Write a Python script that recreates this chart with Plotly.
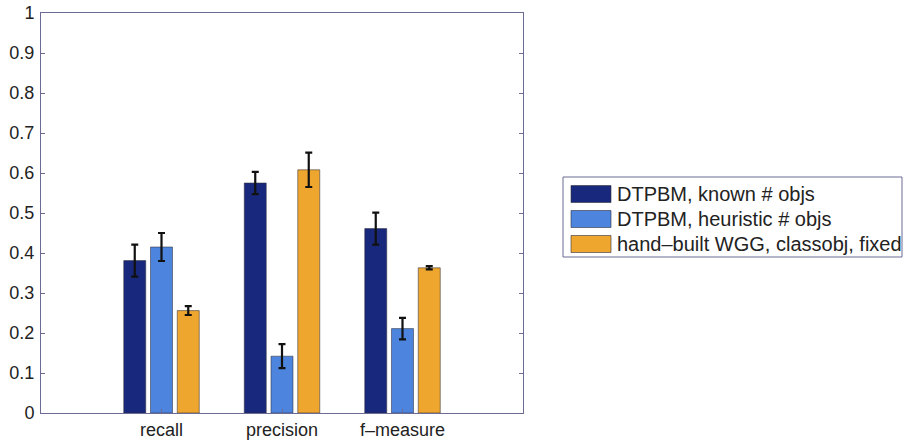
import plotly.graph_objects as go

categories = ["recall", "precision", "f\u2013measure"]
series_names = ["DTPBM, known # objs", "DTPBM, heuristic # objs", "hand\u2013built WGG, classobj, fixed"]
known_vals = [0.381, 0.575, 0.461]
known_err = [0.040, 0.028, 0.040]
heur_vals = [0.415, 0.142, 0.211]
heur_err = [0.035, 0.030, 0.027]
hand_vals = [0.256, 0.608, 0.363]
hand_err = [0.011, 0.043, 0.004]
y_ticks = [0, 0.1, 0.2, 0.3, 0.4, 0.5, 0.6, 0.7, 0.8, 0.9, 1]
y_ticktext = ["0", "0.1", "0.2", "0.3", "0.4", "0.5", "0.6", "0.7", "0.8", "0.9", "1"]

colors = ["#18287c", "#4c84de", "#eea62f"]
FONT = "Liberation Sans, Arial, sans-serif"

fig = go.Figure()
for name, vals, errs, col in zip(series_names,
                                 [known_vals, heur_vals, hand_vals],
                                 [known_err, heur_err, hand_err], colors):
    fig.add_trace(go.Bar(
        x=categories, y=vals, name=name,
        marker=dict(color=col, line=dict(color="rgba(50,50,60,0.55)", width=1)),
        error_y=dict(type="data", array=errs, visible=True, color="#111111",
                     thickness=2.2, width=3.5),
        showlegend=False,
    ))

# manual legend (matlab-style wide swatches), positions in pixels
T, B = 13, 27
x0, x1 = 41, 523
y1, y0 = T, 440 - B
def px(x):
    return (x - x0) / (x1 - x0)
def py(y):
    return (y0 - y) / (y0 - y1)

shapes = [dict(type="rect", xref="paper", yref="paper",
               x0=px(563), x1=px(902), y0=py(257), y1=py(177),
               line=dict(color="#6b6b95", width=1), fillcolor="white", layer="below")]
annotations = []
row_y = [194, 219, 244]
for name, col, ry in zip(series_names, colors, row_y):
    shapes.append(dict(type="rect", xref="paper", yref="paper",
                       x0=px(571), x1=px(611), y0=py(ry + 8.5), y1=py(ry - 8.5),
                       line=dict(color="rgba(50,50,60,0.6)", width=1), fillcolor=col))
    annotations.append(dict(text=name, xref="paper", yref="paper",
                            x=px(615), y=py(ry), xanchor="left", yanchor="middle",
                            showarrow=False, font=dict(family=FONT, size=20, color="#222222")))

fig.update_layout(
    width=904, height=440,
    margin=dict(l=41, r=904 - 523, t=T, b=B, autoexpand=False),
    paper_bgcolor="white", plot_bgcolor="white",
    barmode="group", bargap=0.334, bargroupgap=0.178,
    font=dict(family=FONT, size=18, color="#222222"),
    shapes=shapes, annotations=annotations,
    showlegend=False,
)
fig.update_xaxes(range=[-1, 3], showline=True, linecolor="#6b6b95", linewidth=1,
                 mirror=True, ticks="inside", ticklen=4, tickcolor="#6b6b95",
                 showgrid=False, zeroline=False, tickfont=dict(size=18),
                 automargin=False)
fig.update_yaxes(range=[0, 1], tickvals=y_ticks, ticktext=y_ticktext,
                 showline=True, linecolor="#6b6b95", linewidth=1,
                 mirror="ticks", ticks="inside", ticklen=4, tickcolor="#6b6b95",
                 showgrid=False, zeroline=False, tickfont=dict(size=18),
                 ticklabelstandoff=2, automargin=False)

fig.write_html("out.html")
